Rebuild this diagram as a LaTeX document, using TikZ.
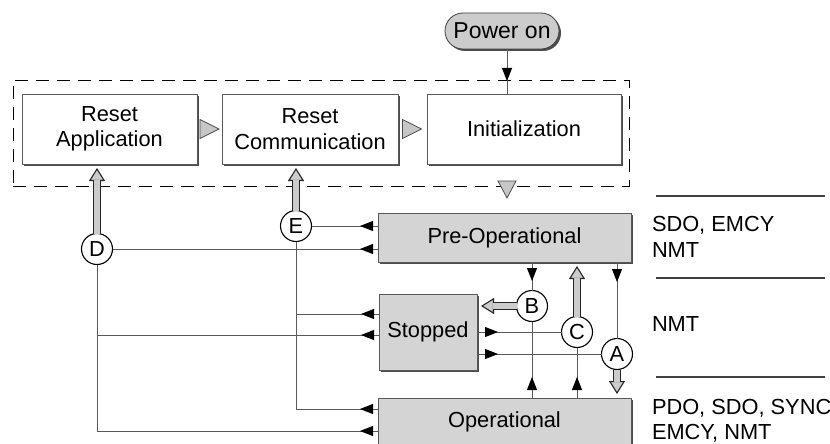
\documentclass[tikz,border=0pt]{standalone}
\usepackage{fontspec}
\setmainfont{Liberation Sans}
\usetikzlibrary{arrows.meta,shapes.geometric,shapes.misc,shadows,decorations.markings,calc}
\tikzset{
  base/.style={font=\fontsize{21.8}{25.5}\selectfont, text=black, inner sep=0pt, outer sep=0pt},
  statebox/.style={base, draw=black!65, line width=0.8pt, align=center,
    drop shadow={shadow xshift=2pt, shadow yshift=-2pt, fill=black!70, opacity=1}},
  whitebox/.style={statebox, fill=white},
  graybox/.style={statebox, fill=black!17},
  letter/.style={base, circle, draw=black, line width=1.1pt, fill=white, minimum size=31pt},
  conn/.style={draw=black!65, line width=0.9pt},
  arr/.style={conn, postaction={decorate},
    decoration={markings, mark=at position #1 with {\arrow[black]{Triangle[width=10pt,length=13pt]}}}},
  hollow/.style={draw=black!85, line width=1.1pt, shorten >=4pt,
    -{Triangle[width=16pt,length=13pt,fill=black!20,line width=1.1pt]},
    preaction={draw=black!85, line width=7.4pt, shorten >=16pt, -},
    postaction={draw=black!20, line width=5.2pt, shorten >=16pt, -}},
  tri/.style={draw=black!70, fill=black!22, line width=0.8pt, line join=miter},
  group/.style={draw=black, line width=0.9pt, dash pattern=on 13pt off 8pt, inner sep=0pt, outer sep=0pt},
  tline/.style={draw=black!75, line width=1.1pt},
}
\begin{document}
\begin{tikzpicture}[x=1pt, y=-1pt]
\useasboundingbox (0,0) rectangle (830,444);

% dashed group
\node[group, minimum width=616pt, minimum height=106pt] (grp) at (321,133) {};

% boxes
\node[whitebox, minimum width=175pt, minimum height=70pt] (RA) at (109.5,129) {Reset\\Application};
\node[whitebox, minimum width=176pt, minimum height=70pt] (RC) at (310,129) {Reset\\Communication};
\node[whitebox, minimum width=194pt, minimum height=70pt] (IN) at (524,129) {Initialization};
\node[graybox, minimum width=253pt, minimum height=49pt] (PO) at (504.5,237.5) {Pre-Operational};
\node[graybox, minimum width=98pt, minimum height=76pt] (ST) at (428,332) {Stopped};
\node[graybox, minimum width=253pt, minimum height=48pt] (OP) at (504.5,422) {Operational};

\node[base, rounded rectangle, draw=black!75, fill=black!20, line width=0.8pt,
  minimum width=114pt, minimum height=36pt,
  drop shadow={shadow xshift=2pt, shadow yshift=-2pt, fill=black!70, opacity=1},
  font=\fontsize{23}{27}\selectfont] (PW) at (502,31) {Power on};

% circles
\node[letter] (D) at (97,249) {D};
\node[letter] (E) at (296,226) {E};
\node[letter] (B) at (532,306) {B};
\node[letter] (C) at (577,332) {C};
\node[letter] (A) at (617,354) {A};

% power on connector
\coordinate (pl) at (507,0);
\draw[arr=32pt] (PW.south -| pl) -- (IN.north -| pl);

% gray triangles
\draw[tri] ($(RA.east)!0.5!(RC.west)$) ++(-9.5,-9.5) -- ++(19,9.5) -- ++(-19,9.5) -- cycle;
\draw[tri] ($(RC.east)!0.5!(IN.west)$) ++(-10,-9.5) -- ++(19,9.5) -- ++(-19,9.5) -- cycle;
\draw[tri] (pl |- grp.south) ++(-9,-5) -- ++(18,0) -- ++(-9,17) -- cycle;

% left connectors (E: reset communication, D: reset application)
\draw[arr=18pt] (PO.west |- E) -- (E);
\draw[arr=18pt] (PO.west |- D) -- (D);
\draw[arr=18pt] ([yshift=13pt]OP.west) -| (E);
\draw[arr=18pt] ([yshift=18pt]ST.west) coordinate (s1) -- (s1 -| E);
\draw[arr=18pt] ([yshift=-9pt]OP.west) -| (D);
\draw[arr=18pt] ([yshift=-3pt]ST.west) coordinate (s2) -- (s2 -| D);

% right connectors
\draw[arr=19pt] (PO.south -| B) -- (B);
\draw[arr=21pt] (OP.north -| B) -- (B);
\draw[arr=21pt] (ST.east |- C) -- (C);
\draw[arr=21pt] (OP.north -| C) -- (C);
\draw[arr=20pt] (PO.south -| A) -- (A);
\draw[arr=21pt] (ST.east |- A) -- (A);

% hollow arrows
\draw[hollow] (B) -- (B -| ST.east);
\draw[hollow] (C) -- (C |- PO.south);
\draw[hollow] (A) -- (A |- OP.north);
\draw[hollow] (D) -- (D |- RA.south);
\draw[hollow] (E) -- (E |- RC.south);

% right table
\draw[tline] (656,196) -- (825,196);
\draw[tline] (656,278) -- (825,278);
\draw[tline] (656,377) -- (825,377);
\node[base, anchor=west, align=left] (t1) at (652,237) {SDO, EMCY\\NMT};
\node[base, anchor=west, align=left] (t2) at (652,324) {NMT};
\node[base, anchor=west, align=left] (t3) at (652,421) {PDO, SDO, SYNC\\EMCY, NMT};
\end{tikzpicture}
\end{document}
